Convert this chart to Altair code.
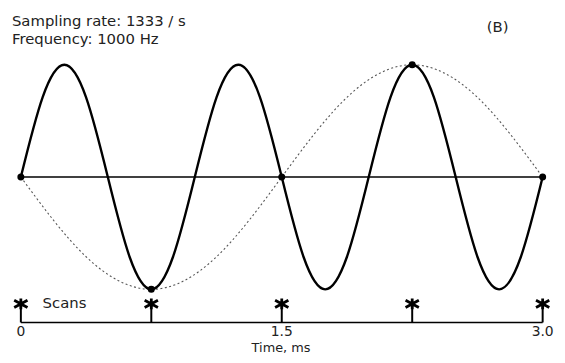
import altair as alt
import pandas as pd

# ---- data ----
T_MAIN = [0.0, 0.125, 0.25, 0.375, 0.5, 0.625, 0.75, 0.875, 1.0, 1.125, 1.25, 1.375,
          1.5, 1.625, 1.75, 1.875, 2.0, 2.125, 2.25, 2.375, 2.5, 2.625, 2.75, 2.875, 3.0]
A_MAIN = [0, 0.71, 1, 0.71, 0, -0.71, -1, -0.71, 0, 0.71, 1, 0.71,
          0, -0.71, -1, -0.71, 0, 0.71, 1, 0.71, 0, -0.71, -1, -0.71, 0]
T_ALIAS = [0.0, 0.375, 0.75, 1.125, 1.5, 1.875, 2.25, 2.625, 3.0]
A_ALIAS = [0, -0.71, -1, -0.71, 0, 0.71, 1, 0.71, 0]
SCAN_T = [0.0, 0.75, 1.5, 2.25, 3.0]
SCAN_A = [0, -1, 0, 1, 0]
TICK_T = [0.0, 1.5, 3.0]
TICK_LABELS = ["0", "1.5", "3.0"]
TITLE_LINES = ["Sampling rate: 1333 / s", "Frequency: 1000 Hz"]
PANEL = "(B)"
SCANS_LABEL = "Scans"
X_TITLE = "Time, ms"

# ---- layout constants ----
W, H = 555, 347
STAR_A = -1.13
AXIS_A = -1.295
FONT = "DejaVu Sans"

xs = alt.Scale(domain=[-0.0739, 3.0825], nice=False, zero=False)
ys = alt.Scale(domain=[-1.5683, 1.4890], nice=False, zero=False)

main = pd.DataFrame({"t": T_MAIN, "a": A_MAIN})
alias = pd.DataFrame({"t": T_ALIAS, "a": A_ALIAS})
scans = pd.DataFrame({"t": SCAN_T, "a": SCAN_A, "star": [STAR_A] * len(SCAN_T),
                      "ax": [AXIS_A] * len(SCAN_T)})
ticks = pd.DataFrame({"t": TICK_T, "label": TICK_LABELS})

X = alt.X("t:Q", scale=xs, axis=None)
Y = alt.Y("a:Q", scale=ys, axis=None)

alias_line = alt.Chart(alias).mark_line(
    interpolate="natural", color="#555555", strokeWidth=1.1, strokeDash=[2, 2.5]
).encode(x=X, y=Y)

main_line = alt.Chart(main).mark_line(
    interpolate="natural", color="black", strokeWidth=2.4
).encode(x=X, y=Y)

zero_line = alt.Chart(pd.DataFrame({"t": [TICK_T[0]], "t2": [TICK_T[-1]], "a": [0]})).mark_rule(
    color="black", strokeWidth=1.6
).encode(x=X, x2="t2:Q", y=Y)

dots = alt.Chart(scans).mark_circle(color="black", size=50, opacity=1).encode(x=X, y=Y)

axis_line = alt.Chart(pd.DataFrame({"t": [TICK_T[0]], "t2": [TICK_T[-1]], "a": [AXIS_A]})).mark_rule(
    color="black", strokeWidth=1.6
).encode(x=X, x2="t2:Q", y=Y)

stems = alt.Chart(scans).mark_rule(color="black", strokeWidth=2).encode(
    x=X, y=alt.Y("star:Q", scale=ys, axis=None), y2="ax:Q"
)

ASTERISK = "M0,-0.8L0,0.8M-1,-0.55L1,0.55M-1,0.55L1,-0.55"
stars = alt.Chart(scans).mark_point(
    shape=ASTERISK, filled=False, color="black", strokeWidth=2.8, size=180, opacity=1
).encode(x=X, y=alt.Y("star:Q", scale=ys, axis=None))

tick_text = alt.Chart(ticks).mark_text(
    font=FONT, fontSize=14, color="#222222", baseline="alphabetic", align="center"
).encode(x=X, y=alt.value(330), text="label:N")

def label(txt, x, y, size, align="left"):
    return alt.Chart(pd.DataFrame({"s": [txt]})).mark_text(
        font=FONT, fontSize=size, color="#222222", baseline="alphabetic", align=align
    ).encode(x=alt.value(x), y=alt.value(y), text="s:N")

texts = [
    label(TITLE_LINES[0], 4, 16, 15),
    label(TITLE_LINES[1], 4, 34, 15),
    label(PANEL, 495, 22, 15, "center"),
    label(SCANS_LABEL, 35, 301, 15),
    label(X_TITLE, 276, 346, 13, "center"),
]

chart = alt.layer(alias_line, zero_line, main_line, dots, axis_line, stems, stars, tick_text, *texts).properties(
    width=W, height=H, autosize=alt.AutoSizeParams(type="none"), padding=0
).configure_view(stroke=None)

chart.save("out.html", embed_options={"renderer": "svg", "actions": False})
